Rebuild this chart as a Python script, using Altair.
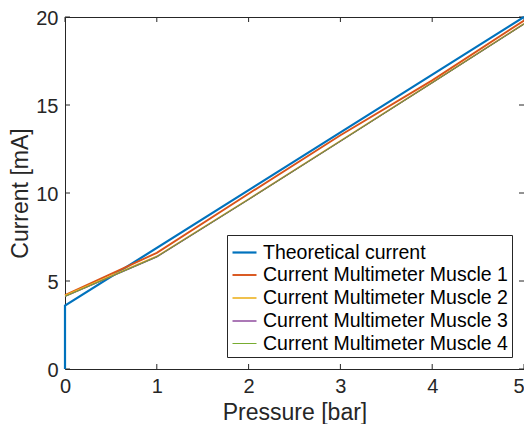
import altair as alt
import pandas as pd

series_names = [
    "Theoretical current",
    "Current Multimeter Muscle 1",
    "Current Multimeter Muscle 2",
    "Current Multimeter Muscle 3",
    "Current Multimeter Muscle 4",
]
colors = ["#0072BD", "#D95319", "#EDB120", "#7E2F8E", "#77AC30"]
widths = [2.2, 1.0, 1.0, 1.0, 1.0]

theo_x = [0, 0, 5]
theo_y = [0, 3.6, 20]

pressure = [0, 1, 2, 3, 4, 5]
muscle1 = [4.20, 6.60, 9.96, 13.28, 16.40, 19.80]
muscle2 = [4.18, 6.40, 9.65, 12.96, 16.28, 19.62]
muscle3 = [4.12, 6.37, 9.63, 12.94, 16.26, 19.60]
muscle4 = [4.12, 6.37, 9.63, 12.94, 16.26, 19.60]

x_ticks = [0, 1, 2, 3, 4, 5]
y_ticks = [0, 5, 10, 15, 20]

rows = []
for i, (xv, yv) in enumerate(zip(theo_x, theo_y)):
    rows.append({"series": series_names[0], "p": xv, "c": yv, "idx": i})
for name, vals in zip(series_names[1:], [muscle1, muscle2, muscle3, muscle4]):
    for i, (xv, yv) in enumerate(zip(pressure, vals)):
        rows.append({"series": name, "p": xv, "c": yv, "idx": i})
df = pd.DataFrame(rows)

W, H = 459, 352
FONT = "Liberation Sans"
AX = "#262626"

xscale = alt.Scale(domain=[0, 5], nice=False, zero=False)
yscale = alt.Scale(domain=[0, 20], nice=False, zero=False)

lines = alt.Chart(df).mark_line(clip=False).encode(
    x=alt.X("p:Q", scale=xscale, title="Pressure [bar]",
            axis=alt.Axis(values=x_ticks, grid=False, domain=False, ticks=False,
                          labelFlush=False, labelPadding=7, titlePadding=5, format="d",
                          labelAlign={"expr": "datum.value >= 5 ? 'right' : 'center'"})),
    y=alt.Y("c:Q", scale=yscale, title="Current [mA]",
            axis=alt.Axis(values=y_ticks, grid=False, domain=False, ticks=False,
                          labelFlush=False, labelPadding=7, titlePadding=3, format="d",
                          labelBaseline="alphabetic", labelOffset=7)),
    color=alt.Color("series:N", sort=series_names,
                    scale=alt.Scale(domain=series_names, range=colors), title=None),
    strokeWidth=alt.StrokeWidth("series:N", sort=series_names,
                                scale=alt.Scale(domain=series_names, range=widths), title=None),
    order="idx:Q",
)

xt = pd.DataFrame({"t": x_ticks})
yt = pd.DataFrame({"t": y_ticks})
tick_len = 5
xb = alt.Chart(xt).mark_rule(color=AX, strokeWidth=1).encode(
    x=alt.X("t:Q", scale=xscale), y=alt.value(H), y2=alt.value(H - tick_len))
xtop = alt.Chart(xt).mark_rule(color=AX, strokeWidth=1).encode(
    x=alt.X("t:Q", scale=xscale), y=alt.value(0), y2=alt.value(tick_len))
yl = alt.Chart(yt).mark_rule(color=AX, strokeWidth=1).encode(
    y=alt.Y("t:Q", scale=yscale), x=alt.value(0), x2=alt.value(tick_len))
yr = alt.Chart(yt).mark_rule(color=AX, strokeWidth=1).encode(
    y=alt.Y("t:Q", scale=yscale), x=alt.value(W), x2=alt.value(W - tick_len))

chart = alt.layer(xb, xtop, yl, yr, lines).properties(
    width=W, height=H,
    autosize=alt.AutoSizeParams(type="none"),
    padding={"left": 57, "top": 9, "right": 0, "bottom": 55},
).configure_view(
    stroke=AX, strokeWidth=1
).configure_axis(
    labelFont=FONT, labelFontSize=20, labelColor="#262626",
    titleFont=FONT, titleFontSize=23, titleFontWeight="normal", titleColor="#262626",
).configure_legend(
    orient="none", legendX=162, legendY=218,
    labelFont=FONT, labelFontSize=19.5, labelColor="#000000",
    symbolType="stroke", symbolSize=576, symbolStrokeWidth=1.5,
    strokeColor=AX, fillColor="white", padding=4, rowPadding=0,
    labelOffset=5, labelLimit=400,
)

chart.save("out.html", embed_options={"renderer": "svg", "actions": False})
